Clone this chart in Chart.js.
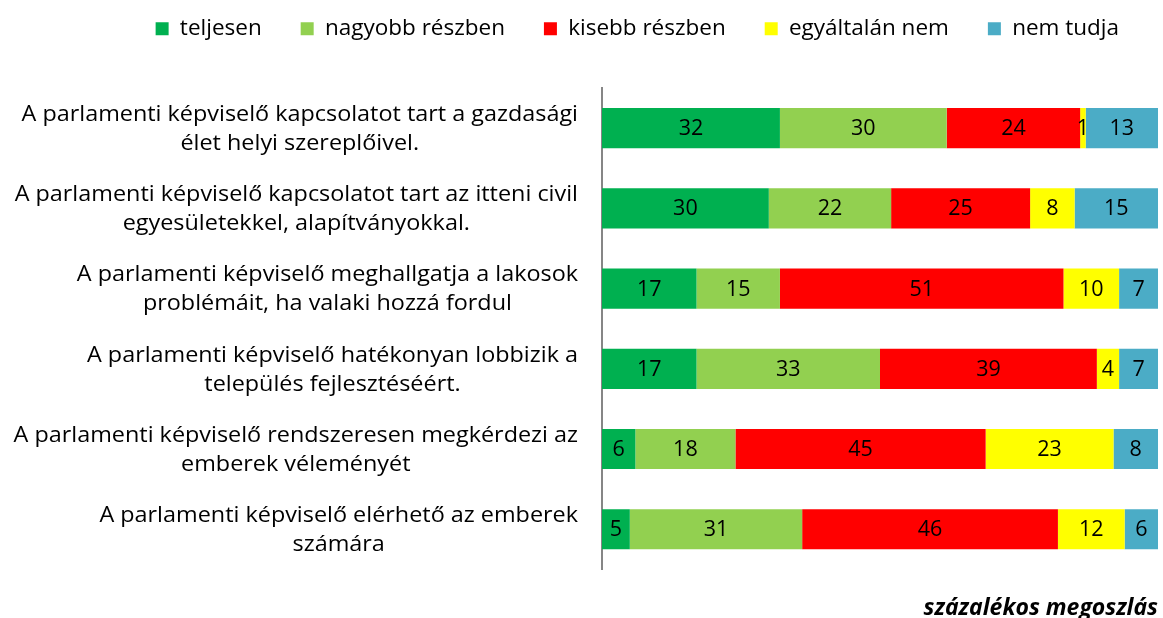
<!DOCTYPE html>
<html>
<head>
<meta charset="utf-8">
<script src="https://cdn.jsdelivr.net/npm/chart.js@4"></script>
<style>
  html, body { margin: 0; padding: 0; background: #fff; }
  #wrap { width: 1163px; height: 618px; position: relative; }
</style>
</head>
<body>
<div id="wrap"><canvas id="kepviseloChart"></canvas></div>
<script>
// statements, each split into the two lines shown on the left
const categories = [
    ['A parlamenti képviselő kapcsolatot tart a gazdasági', 'élet helyi szereplőivel.'],
    ['A parlamenti képviselő kapcsolatot tart az itteni civil', 'egyesületekkel, alapítványokkal.'],
    ['A parlamenti képviselő meghallgatja a lakosok', 'problémáit, ha valaki hozzá fordul'],
    ['A parlamenti képviselő hatékonyan lobbizik a', 'település fejlesztéséért.'],
    ['A parlamenti képviselő rendszeresen megkérdezi az', 'emberek véleményét'],
    ['A parlamenti képviselő elérhető az emberek', 'számára']
];

const seriesNames = ['teljesen', 'nagyobb részben', 'kisebb részben', 'egyáltalán nem', 'nem tudja'];

const teljesen = [32, 30, 17, 17, 6, 5];
const nagyobbReszben = [30, 22, 15, 33, 18, 31];
const kisebbReszben = [24, 25, 51, 39, 45, 46];
const egyaltalanNem = [1, 8, 10, 4, 23, 12];
const nemTudja = [13, 15, 7, 7, 8, 6];

const footerText = 'százalékos megoszlás';

const colors = ['#00B050', '#92D050', '#FF0000', '#FFFF00', '#4BACC6'];
const FONT = '"Open Sans", sans-serif';

// numbers in the middle of each segment
const segmentLabels = {
    id: 'segmentLabels',
    afterDatasetsDraw(chart) {
        const ctx = chart.ctx;
        ctx.save();
        ctx.font = '21.5px ' + FONT;
        ctx.fillStyle = '#000';
        ctx.textAlign = 'center';
        ctx.textBaseline = 'middle';
        chart.data.datasets.forEach((ds, i) => {
            chart.getDatasetMeta(i).data.forEach((bar, j) => {
                const x = (bar.x + bar.base) / 2;
                ctx.fillText(String(ds.data[j]), x, bar.y + 1);
            });
        });
        ctx.restore();
    }
};

// category text: block sits right of the axis, lines centred inside the block
const categoryText = {
    id: 'categoryText',
    afterDraw(chart) {
        const ctx = chart.ctx;
        const yScale = chart.scales.y;
        const lineH = 29;
        const stretch = 1.063; // the original lettering is a bit wider
        const rightEdge = yScale.right - 24;
        ctx.save();
        ctx.font = '22px ' + FONT;
        ctx.fillStyle = '#000';
        ctx.textAlign = 'center';
        ctx.textBaseline = 'middle';
        categories.forEach((lines, i) => {
            const widest = Math.max(...lines.map(l => ctx.measureText(l).width)) * stretch;
            const cx = rightEdge - widest / 2;
            const cy = yScale.getPixelForValue(i) + 1;
            lines.forEach((l, k) => {
                ctx.save();
                ctx.translate(cx, cy + (k - (lines.length - 1) / 2) * lineH);
                ctx.scale(stretch, 1);
                ctx.fillText(l, 0, 0);
                ctx.restore();
            });
        });
        ctx.restore();
    }
};

// pull the legend row up to the top edge
const legendUp = {
    id: 'legendUp',
    afterLayout(chart) {
        const lg = chart.legend;
        lg.top -= 38;
        lg.bottom -= 38;
    }
};

const ctx = document.getElementById('kepviseloChart').getContext('2d');
const myChart = new Chart(ctx, {
    type: 'bar',
    data: {
        labels: categories.map(c => c.join(' ')),
        datasets: [teljesen, nagyobbReszben, kisebbReszben, egyaltalanNem, nemTudja].map((d, i) => ({
            label: seriesNames[i],
            data: d,
            backgroundColor: colors[i],
            borderWidth: 0,
            categoryPercentage: 1,
            barPercentage: 0.5
        }))
    },
    options: {
        indexAxis: 'y',
        responsive: true,
        maintainAspectRatio: false,
        animation: false,
        layout: {
            padding: { top: 16.5, right: 5, left: 0, bottom: 0 }
        },
        scales: {
            x: {
                stacked: true,
                min: 0,
                max: 100,
                display: false
            },
            y: {
                stacked: true,
                grid: { display: false },
                border: { display: true, color: '#868686', width: 2 },
                ticks: { display: false },
                afterFit(scale) {
                    scale.width = 602;
                }
            }
        },
        plugins: {
            legend: {
                position: 'top',
                align: 'end',
                labels: {
                    boxWidth: 13,
                    boxHeight: 13,
                    padding: 39,
                    color: '#000',
                    font: { family: FONT, size: 22.5 }
                }
            },
            title: {
                display: true,
                text: footerText,
                position: 'bottom',
                align: 'end',
                color: '#000',
                padding: { top: 25, bottom: -4 },
                font: { family: FONT, size: 23, weight: 'bold', style: 'italic', lineHeight: 1.2 }
            },
            tooltip: { enabled: false }
        }
    },
    plugins: [segmentLabels, categoryText, legendUp]
});
</script>
</body>
</html>
